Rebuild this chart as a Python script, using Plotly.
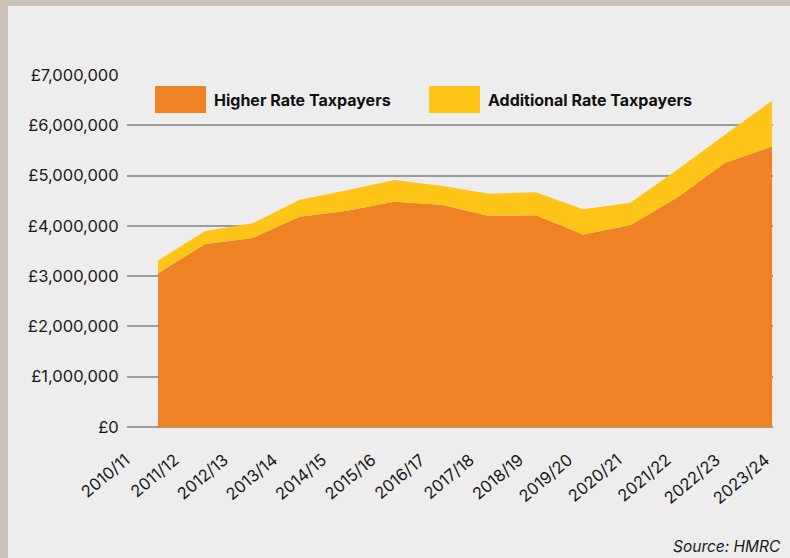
import plotly.graph_objects as go

# ---- data ----
years = ["2010/11", "2011/12", "2012/13", "2013/14", "2014/15", "2015/16", "2016/17",
         "2017/18", "2018/19", "2019/20", "2020/21", "2021/22", "2022/23", "2023/24"]
higher_rate = [3060000, 3640000, 3760000, 4180000, 4300000, 4480000, 4420000,
               4200000, 4210000, 3830000, 4010000, 4570000, 5250000, 5580000]
additional_rate = [250000, 260000, 290000, 340000, 410000, 430000, 380000,
                   440000, 460000, 500000, 450000, 550000, 560000, 910000]
y_ticks = [0, 1000000, 2000000, 3000000, 4000000, 5000000, 6000000, 7000000]
y_tick_labels = ["£0", "£1,000,000", "£2,000,000", "£3,000,000", "£4,000,000",
                 "£5,000,000", "£6,000,000", "£7,000,000"]

ORANGE = "#EE8224"
YELLOW = "#FEC418"
BG = "#EDEDED"
BORDER = "#CBC3B9"
GRID = "#9c9c9c"
FONT = "Inter"

x_idx = list(range(len(years)))

fig = go.Figure()
fig.add_trace(go.Scatter(
    x=x_idx, y=higher_rate, name="Higher Rate Taxpayers", mode="lines",
    line=dict(width=0, color=ORANGE), fillcolor=ORANGE, stackgroup="one",
    hoverinfo="skip"))
fig.add_trace(go.Scatter(
    x=x_idx, y=additional_rate, name="Additional Rate Taxpayers", mode="lines",
    line=dict(width=0, color=YELLOW), fillcolor=YELLOW, stackgroup="one",
    hoverinfo="skip"))

# tick label anchor positions (offset from the data points, as in the original design)
label_pos = [-0.60 + 1.0417 * i for i in x_idx]

fig.update_layout(
    width=790, height=558,
    margin=dict(l=127, r=17, t=75, b=131),
    paper_bgcolor=BG, plot_bgcolor=BG,
    showlegend=False,
    font=dict(family=FONT, color="#1a1a1a"),
    xaxis=dict(range=[-0.656, 13.02], tickmode="array", tickvals=label_pos,
               ticktext=years, tickangle=-40, showgrid=False, zeroline=False,
               showline=False, ticks="outside", ticklen=16, tickcolor="rgba(0,0,0,0)",
               ticklabelshift=-4,
               tickfont=dict(size=16.5, color="#1a1a1a")),
    yaxis=dict(range=[0, 7000000], tickmode="array", tickvals=y_ticks,
               ticktext=y_tick_labels, showgrid=True, gridcolor=GRID,
               gridwidth=1.5, zeroline=True, zerolinecolor=GRID, zerolinewidth=1.5,
               showline=False,
               ticks="outside", ticklen=4, tickcolor="rgba(0,0,0,0)",
               tickfont=dict(size=16.5, color="#1a1a1a")),
)

# custom legend (large swatches like the original)
legend_items = [("Higher Rate Taxpayers", ORANGE, 155), ("Additional Rate Taxpayers", YELLOW, 429)]
for label, color, px in legend_items:
    fig.add_shape(type="rect", xref="paper", yref="paper",
                  x0=(px - 127) / 646, x1=(px + 51 - 127) / 646,
                  y0=(427 - 113) / 352, y1=(427 - 86) / 352,
                  fillcolor=color, line=dict(width=0), layer="above")
    fig.add_annotation(text="<b>" + label + "</b>", xref="paper", yref="paper",
                       x=(px + 57 - 127) / 646, y=(427 - 100) / 352,
                       xanchor="left", yanchor="middle", showarrow=False,
                       font=dict(size=16, color="#111111", family=FONT))

# source note
fig.add_annotation(text="<i>Source: HMRC</i>", xref="paper", yref="paper",
                   x=(783 - 127) / 646, y=(427 - 546) / 352,
                   xanchor="right", yanchor="middle", showarrow=False,
                   font=dict(size=15.5, color="#1a1a1a", family=FONT))

# frame border (top and left strips)
fig.add_shape(type="rect", xref="paper", yref="paper",
              x0=-127 / 646, x1=(790 - 127) / 646, y0=(427 - 6) / 352, y1=(427 + 2) / 352,
              fillcolor=BORDER, line=dict(width=0), layer="above")
fig.add_shape(type="rect", xref="paper", yref="paper",
              x0=(-127 - 2) / 646, x1=(8 - 127) / 646, y0=(427 - 560) / 352, y1=(427 + 2) / 352,
              fillcolor=BORDER, line=dict(width=0), layer="above")

fig.write_html("out.html")
